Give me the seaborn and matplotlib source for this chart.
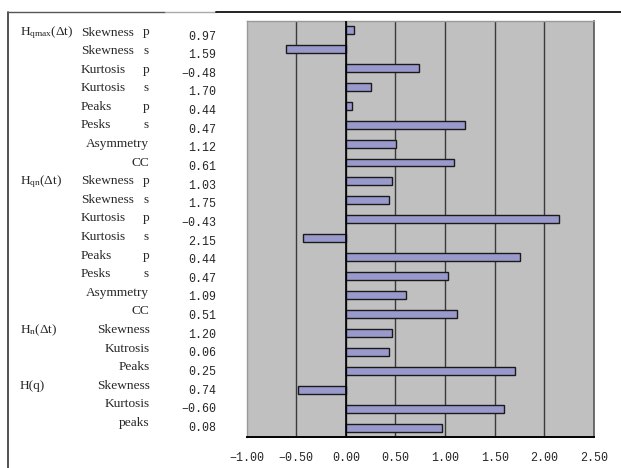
import matplotlib
matplotlib.use("Agg")
import matplotlib.pyplot as plt
import seaborn as sns
import pandas as pd
from matplotlib.lines import Line2D

# ---- data ----
row_names = ["Skewness", "Skewness", "Kurtosis", "Kurtosis", "Peaks", "Pesks", "Asymmetry", "CC",
             "Skewness", "Skewness", "Kurtosis", "Kurtosis", "Peaks", "Pesks", "Asymmetry", "CC",
             "Skewness", "Kutrosis", "Peaks",
             "Skewness", "Kurtosis", "peaks"]
row_suffix = ["p", "s", "p", "s", "p", "s", "", "",
              "p", "s", "p", "s", "p", "s", "", "",
              "", "", "",
              "", "", ""]
group_labels = [r"H$_{\mathrm{qmax}}$(Δt)", r"H$_{\mathrm{qn}}$(Δt)", r"H$_{\mathrm{n}}$(Δt)", "H(q)"]
group_rows = [0, 8, 16, 19]
printed_values = [0.97, 1.59, -0.48, 1.70, 0.44, 0.47, 1.12, 0.61,
                  1.03, 1.75, -0.43, 2.15, 0.44, 0.47, 1.09, 0.51,
                  1.20, 0.06, 0.25,
                  0.74, -0.60, 0.08]
# bars appear in the reverse order of the printed column
bar_values = printed_values[::-1]
x_ticks = [-1.0, -0.5, 0.0, 0.5, 1.0, 1.5, 2.0, 2.5]

W, H = 621, 468
sns.set_style("white")
plt.rcParams["mathtext.fontset"] = "custom"
plt.rcParams["mathtext.rm"] = "Liberation Serif"
plt.rcParams["mathtext.it"] = "Liberation Serif:italic"

fig = plt.figure(figsize=(W / 100, H / 100), dpi=100)
L, R, T, B = 246.5, 594, 20.5, 437
ax = fig.add_axes([L / W, (H - B) / H, (R - L) / W, (B - T) / H])

df = pd.DataFrame({"row": [str(i) for i in range(len(bar_values))], "value": bar_values})
ax.set_facecolor("#C0C0C0")
for xv in x_ticks[1:-1]:
    ax.axvline(xv, color="#3a3a3a", lw=1.0, zorder=0.5)
sns.barplot(data=df, x="value", y="row", orient="h", color="#9999CC", saturation=1,
            edgecolor="#1a1a1a", linewidth=1.0, width=0.42, ax=ax, zorder=2)
ax.axvline(0, color="black", lw=1.2, zorder=3)
ax.set_xlim(-1.0, 2.5)
ax.set_ylim(len(bar_values) - 0.5, -0.5)
ax.set_xticks(x_ticks)
ax.set_xticklabels([f"{v:.2f}".replace("-", "\u2212") for v in x_ticks],
                   family="Liberation Mono", fontsize=8.4)
ax.tick_params(axis="x", length=0, pad=11)
ax.set_yticks([])
ax.set_xlabel("")
ax.set_ylabel("")
for side in ["left", "top"]:
    ax.spines[side].set_color("#9a9a9a")
    ax.spines[side].set_linewidth(1.0)
ax.spines["right"].set_color("#555555")
ax.spines["right"].set_linewidth(1.2)
ax.spines["bottom"].set_color("black")
ax.spines["bottom"].set_linewidth(1.4)

def fx(px):
    return px / W

def fy(py):
    return 1 - py / H

n = len(row_names)
lab_y0, lab_y1 = 32.5, 423
num_y0, num_y1 = 36.5, 428
for i in range(n):
    ly = lab_y0 + (lab_y1 - lab_y0) * i / (n - 1)
    if row_suffix[i]:
        fig.text(fx(81), fy(ly), row_names[i], ha="left", va="center",
                 family="Liberation Serif", fontsize=9.6)
        fig.text(fx(146), fy(ly), row_suffix[i], ha="center", va="center",
                 family="Liberation Serif", fontsize=9.6)
    else:
        fig.text(fx(149.5), fy(ly), row_names[i], ha="right", va="center",
                 family="Liberation Serif", fontsize=9.6)
    ny = num_y0 + (num_y1 - num_y0) * i / (n - 1)
    fig.text(fx(216), fy(ny), f"{printed_values[i]:.2f}".replace("-", "\u2212"),
             ha="right", va="center", family="Liberation Mono", fontsize=8.4)

for lab, r in zip(group_labels, group_rows):
    ly = lab_y0 + (lab_y1 - lab_y0) * r / (n - 1)
    fig.text(fx(20), fy(ly), lab, ha="left", va="center",
             family="Liberation Serif", fontsize=9.6)

# outer frame lines
fig.add_artist(Line2D([fx(8), fx(8)], [fy(12), fy(468)], color="#333333", lw=1.2))
fig.add_artist(Line2D([fx(8), fx(165)], [fy(12), fy(12)], color="#555555", lw=1.0))
fig.add_artist(Line2D([fx(165), fx(216)], [fy(12), fy(12)], color="#aaaaaa", lw=1.0))
fig.add_artist(Line2D([fx(216), fx(621)], [fy(11.5), fy(11.5)], color="#222222", lw=1.4))

fig.savefig("out.png", dpi=100)
